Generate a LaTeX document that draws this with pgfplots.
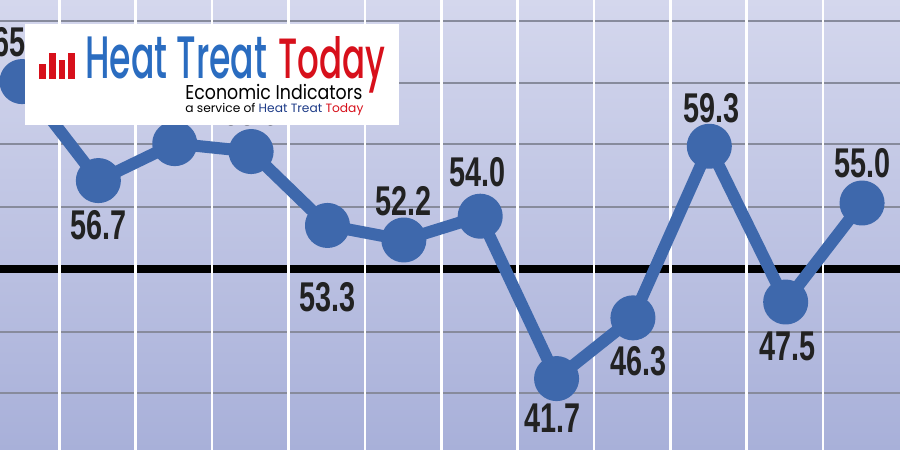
\documentclass[border=0pt]{standalone}
\usepackage{fontspec}
\setmainfont{Liberation Sans}
\newfontfamily\logofont{Poppins}
\newfontfamily\logomed{Poppins}[UprightFont={* Medium}]
\usepackage{pgfplots}
\usepackage{pgfplotstable}
\pgfplotsset{compat=1.18}
\definecolor{bgtop}{RGB}{212,215,237}
\definecolor{bgbot}{RGB}{168,176,217}
\definecolor{lineblue}{RGB}{62,104,172}
\definecolor{gridgray}{RGB}{135,139,156}
\definecolor{logoblue}{RGB}{42,108,192}
\definecolor{logored}{RGB}{215,16,27}
\definecolor{logodark}{RGB}{30,60,136}
\definecolor{labtxt}{RGB}{34,34,34}

\pgfplotstableread{
x y lab dx dy
0 64.2 65.0 0 19.5
1 56.7 56.7 0 -22.5
2 59.5 59.5 0 20
3 58.9 58.9 0 20
4 53.3 53.3 0 -36
5 52.2 52.2 0 19.5
6 54.0 54.0 -1.5 22
7 41.7 41.7 -2 -20
8 46.3 46.3 3 -21.5
9 59.3 59.3 1 19
10 47.5 47.5 1 -22
11 55.0 55.0 0 20
}\datatable

\begin{document}
\begin{tikzpicture}
\useasboundingbox (0,0) rectangle (450pt,225pt);
\clip (0,0) rectangle (450pt,225pt);
\begin{axis}[
  at={(0,0)}, anchor=south west,
  scale only axis, width=450pt, height=225pt,
  xmin=-0.288, xmax=11.497, ymin=36.29, ymax=70.38,
  axis background/.style={top color=bgtop, bottom color=bgbot},
  axis line style={draw=none},
  tick style={draw=none},
  xtick=\empty,
  ytick={40.61,45.23,54.70,59.47,64.09,68.79},
  yticklabels={},
  ymajorgrids,
  grid style={gridgray, line width=1.1pt},
]
\addplot[black, line width=4pt, mark=none] coordinates {(-1,50) (12,50)};
\addplot[ycomb, white, line width=1.3pt, mark=none] coordinates {
(0.49,75) (1.49,75) (2.49,75) (3.49,75) (4.49,75) (5.49,75) (6.49,75) (7.49,75) (8.49,75) (9.49,75) (10.49,75)};
\addplot[lineblue, line width=6pt, line join=round, mark=*, mark size=8.25pt,
  mark options={draw=none, fill=lineblue},
  point meta=explicit symbolic,
  nodes near coords={\scalebox{0.72}[1.04]{\pgfplotspointmeta}},
  visualization depends on={\thisrow{dx} \as \labdx},
  visualization depends on={\thisrow{dy} \as \labdy},
  every node near coord/.append style={anchor=center, xshift=\labdx, yshift=\labdy,
     font=\fontsize{20}{24}\selectfont\bfseries, text=labtxt}]
  table[x=x, y=y, meta=lab] {\datatable};
\end{axis}
% logo
\fill[white] (12.5pt,162.5pt) rectangle (199.5pt,213pt);
\fill[logored] (19.6pt,185.5pt) rectangle (23pt,193pt);
\fill[logored] (24.6pt,185.5pt) rectangle (28pt,198.4pt);
\fill[logored] (29.6pt,185.5pt) rectangle (32.6pt,195pt);
\fill[logored] (34.1pt,185.5pt) rectangle (37.5pt,198.4pt);
\node[anchor=base west, inner sep=0, text=logoblue] at (42.5pt,185.5pt) {\resizebox{91pt}{20.8pt}{\logomed Heat Treat}};
\node[anchor=base west, inner sep=0, text=logored] at (139pt,185.5pt) {\resizebox{53.5pt}{21pt}{\logomed Today}};
\node[anchor=base west, inner sep=0, text=black] at (92.5pt,175pt) {\resizebox{88.5pt}{7.6pt}{\logofont Economic Indicators}};
\node[anchor=base west, inner sep=0, text=black] at (92.5pt,168.5pt) {\resizebox{89pt}{4.6pt}{\logofont a service of \textcolor{logodark}{Heat Treat} \textcolor{logored}{Today}}};
\end{tikzpicture}
\end{document}
